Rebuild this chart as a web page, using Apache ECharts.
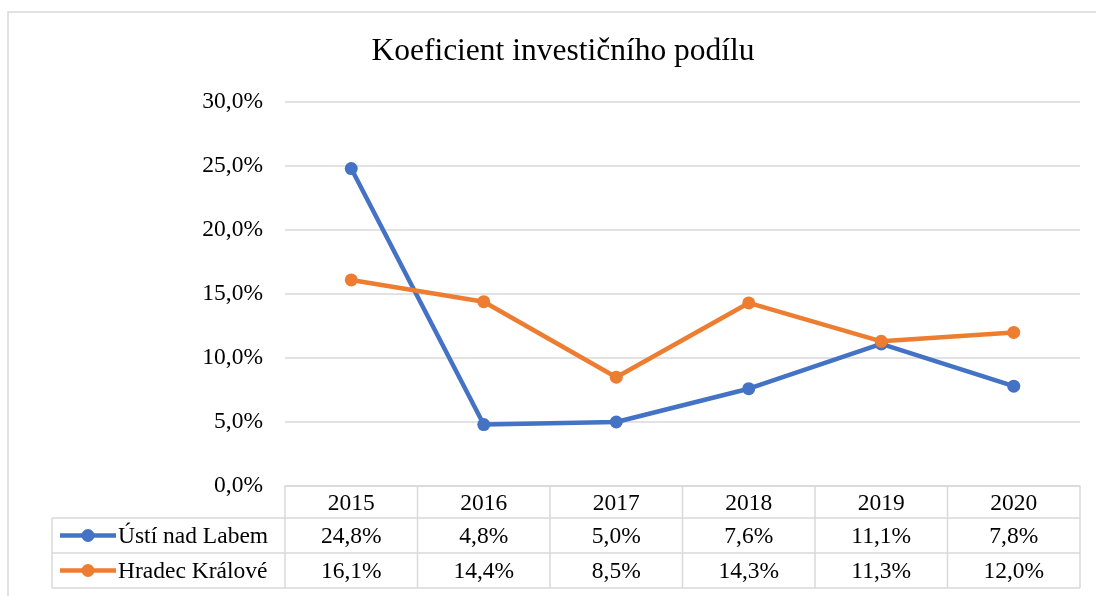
<!DOCTYPE html>
<html>
<head>
<meta charset="utf-8">
<script src="https://cdn.jsdelivr.net/npm/echarts@6/dist/echarts.min.js"></script>
<style>
  html, body { margin: 0; padding: 0; background: #fff; }
  #main { width: 1096px; height: 596px; }
</style>
</head>
<body>
<div id="main"></div>
<script>
// data
var years = ['2015', '2016', '2017', '2018', '2019', '2020'];
var usti = [24.8, 4.8, 5.0, 7.6, 11.1, 7.8];
var hradec = [16.1, 14.4, 8.5, 14.3, 11.3, 12.0];
var seriesNames = ['Ústí nad Labem', 'Hradec Králové'];
var seriesColors = ['#4472C4', '#ED7D31'];

var FONT = '"Liberation Serif", "DejaVu Serif", serif';
var FS = 23.5;
var gridL = 285, gridR = 1080, gridT = 102, gridB = 486;
var rowH = 35;

function pct(v) {
  return v.toFixed(1).replace('.', ',') + '%';
}

var chart = echarts.init(document.getElementById('main'));

// data table under the plot (built from the arrays above)
function tableGraphics() {
  var g = [];
  var lineStyle = { stroke: '#d9d9d9', lineWidth: 1.5 };
  var bw = (gridR - gridL) / years.length;
  var legL = 52;
  var y0 = gridB, y1 = gridB + 32, y2 = y1 + rowH, y3 = y2 + rowH;
  // horizontal lines
  g.push({ type: 'line', shape: { x1: legL, y1: y1, x2: gridR, y2: y1 }, style: lineStyle, silent: true });
  g.push({ type: 'line', shape: { x1: legL, y1: y2, x2: gridR, y2: y2 }, style: lineStyle, silent: true });
  g.push({ type: 'line', shape: { x1: legL, y1: y3, x2: gridR, y2: y3 }, style: lineStyle, silent: true });
  // vertical lines
  g.push({ type: 'line', shape: { x1: legL, y1: y1, x2: legL, y2: y3 }, style: lineStyle, silent: true });
  for (var i = 0; i <= years.length; i++) {
    var x = gridL + bw * i;
    g.push({ type: 'line', shape: { x1: x, y1: y0, x2: x, y2: y3 }, style: lineStyle, silent: true });
  }
  var rows = [usti, hradec];
  rows.forEach(function (vals, r) {
    var cy = y1 + rowH * r + rowH / 2 + 1;
    // legend key
    g.push({ type: 'line', shape: { x1: 60, y1: cy - 1, x2: 116, y2: cy - 1 },
      style: { stroke: seriesColors[r], lineWidth: 4.5 }, silent: true });
    g.push({ type: 'circle', shape: { cx: 88, cy: cy - 1, r: 6.5 },
      style: { fill: seriesColors[r] }, silent: true });
    g.push({ type: 'text', x: 118, y: cy, silent: true,
      style: { text: seriesNames[r], font: FS + 'px ' + FONT, fill: '#000', verticalAlign: 'middle', align: 'left' } });
    vals.forEach(function (v, i) {
      g.push({ type: 'text', x: gridL + bw * (i + 0.5), y: cy, silent: true,
        style: { text: pct(v), font: FS + 'px ' + FONT, fill: '#000', verticalAlign: 'middle', align: 'center' } });
    });
  });
  // outer frame (runs off the right/bottom edge like the original screenshot)
  g.push({ type: 'rect', shape: { x: 8, y: 12, width: 1100, height: 600 },
    style: { fill: 'none', stroke: '#d9d9d9', lineWidth: 1.5 }, silent: true, z: -1 });
  return g;
}

var option = {
  backgroundColor: '#fff',
  title: {
    text: 'Koeficient investičního podílu',
    left: 558, top: 31, textAlign: 'center',
    textStyle: { fontFamily: FONT, fontSize: 31.5, fontWeight: 'normal', color: '#000' }
  },
  grid: { left: gridL, right: 1096 - gridR, top: gridT, bottom: 596 - gridB },
  xAxis: {
    type: 'category',
    data: years,
    boundaryGap: true,
    axisLine: { show: true, lineStyle: { color: '#d9d9d9', width: 1.5 } },
    axisTick: { show: false },
    axisLabel: { color: '#000', fontFamily: FONT, fontSize: FS, margin: 6 },
    splitLine: { show: false }
  },
  yAxis: {
    type: 'value',
    min: 0, max: 30, interval: 5,
    axisLine: { show: false },
    axisTick: { show: false },
    axisLabel: {
      color: '#000', fontFamily: FONT, fontSize: FS, margin: 22,
      formatter: function (v) { return pct(v); }
    },
    splitLine: { lineStyle: { color: '#d9d9d9', width: 1.5 } }
  },
  series: [
    { name: seriesNames[0], type: 'line', data: usti, color: seriesColors[0],
      symbol: 'circle', symbolSize: 13, lineStyle: { width: 4.5 }, z: 2 },
    { name: seriesNames[1], type: 'line', data: hradec, color: seriesColors[1],
      symbol: 'circle', symbolSize: 13, lineStyle: { width: 4.5 }, z: 3 }
  ],
  graphic: tableGraphics(),
  animation: false
};

chart.setOption(option);
</script>
</body>
</html>
